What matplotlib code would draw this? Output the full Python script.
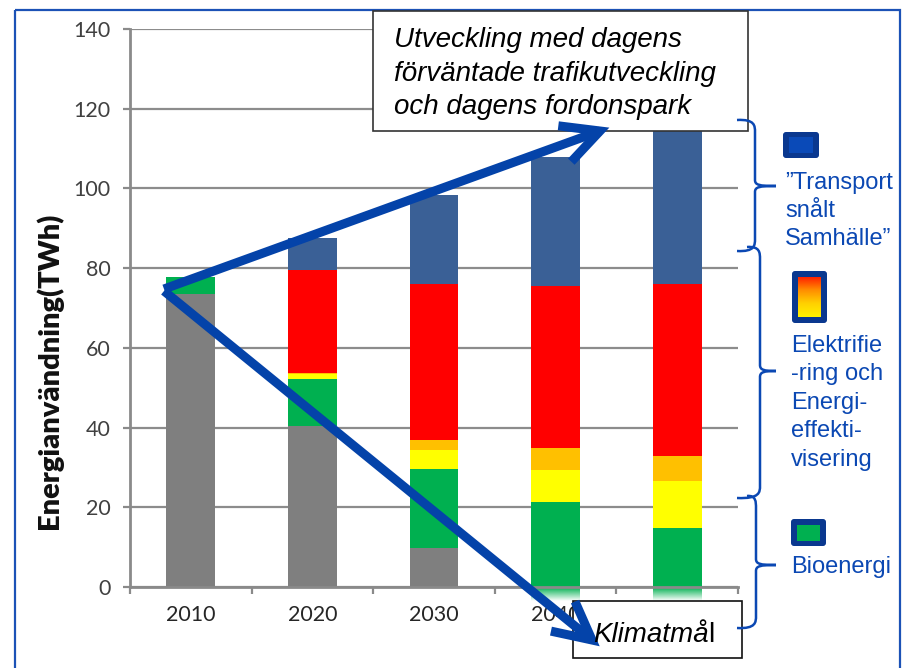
import numpy as np
import matplotlib
matplotlib.use("Agg")
import matplotlib.pyplot as plt
from matplotlib.patches import Rectangle, FancyBboxPatch, PathPatch
from matplotlib.path import Path
from matplotlib.lines import Line2D
from matplotlib.transforms import Affine2D
from matplotlib.colors import LinearSegmentedColormap, to_rgb

# ---- data (TWh) ----
years = ["2010", "2020", "2030", "2040", "2050"]
fossil = [73.5, 40.5, 9.7, 0.0, 0.0]
bioenergi = [4.3, 11.7, 19.8, 21.4, 14.9]
el_gul = [0.0, 1.2, 4.8, 7.9, 11.7]
el_orange = [0.0, 0.4, 2.7, 5.5, 6.2]
effektivisering = [0.0, 25.8, 39.1, 40.6, 43.3]
transportsnalt = [0.0, 7.9, 22.3, 32.4, 41.0]
yticks = [0, 20, 40, 60, 80, 100, 120, 140]

ylabel = "Energianvändning(TWh)"
box_lines = ["Utveckling med dagens", "förväntade trafikutveckling", "och dagens fordonspark"]
goal_italic, goal_upright = "Klimatmå", "l"
legend_transport = ["\u201dTransport", "snålt", "Samhälle\u201d"]
legend_el = ["Elektrifie", "-ring och", "Energi-", "effekti-", "visering"]
legend_bio = ["Bioenergi"]

series = [fossil, bioenergi, el_gul, el_orange, effektivisering, transportsnalt]
colors = ["#7f7f7f", "#00b050", "#ffff00", "#ffc000", "#ff0000", "#3a6096"]

W, H = 910, 668
plt.rcParams["font.family"] = ["Lato", "DejaVu Sans"]
fig = plt.figure(figsize=(W / 100, H / 100), dpi=100)
fig.patch.set_facecolor("white")

# pixel coordinates (origin top-left) for the decorations
px = Affine2D().scale(1 / W, -1 / H).translate(0, 1) + fig.transFigure

ax = fig.add_axes([130 / W, (H - 587) / H, 608 / W, 558 / H])
x = np.arange(len(years))
bottom = np.zeros(len(years))
bar_groups = []
for vals, col in zip(series, colors):
    bars = ax.bar(x, vals, width=0.4, bottom=bottom, color=col, zorder=2, linewidth=0)
    bar_groups.append(bars)
    bottom += np.array(vals)

# soft fade of the bioenergy bars just below the axis
fade_rgb = to_rgb(colors[1])
grad = np.zeros((50, 2, 4))
grad[..., :3] = fade_rgb
grad[..., 3] = np.linspace(1, 0, 50)[:, None]
for i in (3, 4):
    p = bar_groups[1][i]
    ax.imshow(grad, extent=[p.get_x(), p.get_x() + p.get_width(), -3.5, 0],
              aspect="auto", clip_on=False, zorder=2, interpolation="bilinear")

ax.set_xlim(-0.5, len(years) - 0.5)
ax.set_ylim(0, 140)
ax.set_yticks(yticks)
ax.set_xticks(np.arange(-0.5, len(years), 1.0))
ax.set_xticklabels([])
ax.set_xticks(x, minor=True)
ax.set_xticklabels(years, minor=True)
ax.tick_params(axis="x", which="major", length=5, width=1.6, color="#8a8a8a", direction="out")
ax.tick_params(axis="x", which="minor", length=0, pad=13, labelsize=15.5, labelcolor="#262626")
ax.tick_params(axis="y", length=5, width=1.6, color="#8a8a8a", pad=9, labelsize=15.5,
               labelcolor="#404040")
ax.yaxis.grid(True, color="#8c8c8c", linewidth=1.6)
ax.set_axisbelow(True)
for s in ("top", "right"):
    ax.spines[s].set_visible(False)
for s in ("left", "bottom"):
    ax.spines[s].set_color("#8a8a8a")
    ax.spines[s].set_linewidth(2)
ax.patch.set_alpha(0)

fig.text(49, 371, ylabel, transform=px, rotation=90, ha="center", va="center",
         fontsize=21, fontweight="heavy", color="#111111")

# outer frame
fig.add_artist(Rectangle((15, 10), 885, 700, transform=px, fill=False,
                         edgecolor="#1c52b6", linewidth=1.6, zorder=1))

# text boxes
fig.add_artist(Rectangle((373, 11), 375, 120, transform=px, facecolor="white",
                         edgecolor="#333333", linewidth=1.2, zorder=5))
for line, yb in zip(box_lines, (47, 81, 114)):
    fig.text(394, yb, line, transform=px, ha="left", va="baseline", fontsize=20,
             style="italic", family=["Liberation Sans", "DejaVu Sans"], color="black", zorder=7)

fig.add_artist(Rectangle((573, 601), 169, 57, transform=px, facecolor="white",
                         edgecolor="#111111", linewidth=1.2, zorder=5))
t_goal = fig.text(593, 642, goal_italic, transform=px, ha="left", va="baseline", fontsize=20,
                  style="italic", family=["Liberation Sans", "DejaVu Sans"], color="black", zorder=7)
fig.canvas.draw()
ext = t_goal.get_window_extent(fig.canvas.get_renderer())
fig.text(ext.x1 / W, 1 - 642 / H, goal_upright, ha="left", va="baseline", fontsize=20,
         family=["Liberation Sans", "DejaVu Sans"], color="black", zorder=7)

# trend arrows
arrow_col = "#0443a9"


def draw_arrow(x0, y0, x1, y1, head=42, ang=27):
    fig.add_artist(Line2D([x0, x1], [y0, y1], transform=px, color=arrow_col,
                          linewidth=6.5, solid_capstyle="butt", zorder=6))
    back = np.array([x0 - x1, y0 - y1], dtype=float)
    back /= np.hypot(*back)
    pts = []
    for a in (ang, -ang):
        r = np.deg2rad(a)
        rot = np.array([[np.cos(r), -np.sin(r)], [np.sin(r), np.cos(r)]])
        pts.append(np.array([x1, y1]) + head * rot @ back)
    fig.add_artist(Line2D([pts[0][0], x1, pts[1][0]], [pts[0][1], y1, pts[1][1]],
                          transform=px, color=arrow_col, linewidth=6.5,
                          solid_joinstyle="miter", solid_capstyle="butt", zorder=6))


draw_arrow(164, 289, 600, 131)
draw_arrow(164, 291, 592, 640)

# curly braces
brace_col = "#0b48b3"


def draw_brace(xl_top, y_top, xl_bot, y_bot, xs, y_tip, x_tip):
    r = 6
    verts = [(xl_top, y_top), (xs, y_top - 1), (xs, y_top + r), (xs, y_top + 2 * r),
             (xs, y_tip - r),
             (xs, y_tip - 1), (xs + 4, y_tip), (x_tip, y_tip),
             (xs + 4, y_tip), (xs, y_tip + 1), (xs, y_tip + r),
             (xs, y_bot - 2 * r),
             (xs, y_bot - r), (xs, y_bot + 1), (xl_bot, y_bot)]
    codes = [Path.MOVETO, Path.CURVE4, Path.CURVE4, Path.CURVE4,
             Path.LINETO,
             Path.CURVE4, Path.CURVE4, Path.CURVE4,
             Path.CURVE4, Path.CURVE4, Path.CURVE4,
             Path.LINETO,
             Path.CURVE4, Path.CURVE4, Path.CURVE4]
    fig.add_artist(PathPatch(Path(verts, codes), transform=px, fill=False,
                             edgecolor=brace_col, linewidth=1.8, zorder=6))


draw_brace(737, 120, 737, 251, 755, 186, 776)
draw_brace(747, 247, 737, 498, 760, 371, 776)
draw_brace(747, 496, 737, 628, 756, 565, 776)

# legend icons
navy = "#0a388f"
fig.add_artist(FancyBboxPatch((783, 132), 36, 26, boxstyle="round,pad=0,rounding_size=3",
                              transform=px, facecolor=navy, edgecolor="none", zorder=5))
fig.add_artist(Rectangle((789, 137), 24, 16, transform=px, facecolor="#0a4ab8",
                         edgecolor="none", zorder=6))
fig.add_artist(FancyBboxPatch((792, 271), 35, 52, boxstyle="round,pad=0,rounding_size=3",
                              transform=px, facecolor=navy, edgecolor="none", zorder=5))
gax = fig.add_axes([798 / W, 1 - 317 / H, 23 / W, 40 / H])
gax.set_zorder(8)
gcmap = LinearSegmentedColormap.from_list("ry", ["#ff1a00", "#ff8c00", "#ffd000", "#fff200"])
gax.imshow(np.linspace(0, 1, 100)[:, None], cmap=gcmap, aspect="auto")
gax.set_axis_off()
fig.add_artist(FancyBboxPatch((791, 519), 35, 27, boxstyle="round,pad=0,rounding_size=3",
                              transform=px, facecolor=navy, edgecolor="none", zorder=5))
fig.add_artist(Rectangle((797, 525), 23, 16, transform=px, facecolor="#00b050",
                         edgecolor="none", zorder=6))

# legend texts
text_col = "#0b48b3"
lfont = dict(transform=px, ha="left", va="baseline", fontsize=17,
             family=["Liberation Sans", "DejaVu Sans"], color=text_col, zorder=7)
for s, yb in zip(legend_transport, (189, 217, 245)):
    fig.text(785, yb, s, **lfont)
for s, yb in zip(legend_el, (352, 380, 409, 437, 466)):
    fig.text(791, yb, s, **lfont)
for s, yb in zip(legend_bio, (573,)):
    fig.text(791, yb, s, **lfont)

fig.savefig("out.png", dpi=100, facecolor="white")
